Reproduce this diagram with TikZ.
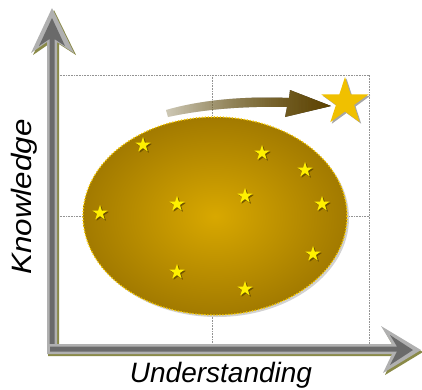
\documentclass[tikz,border=0pt]{standalone}
\usepackage{fontspec}
\setmainfont{Liberation Sans}
\usetikzlibrary{shapes.geometric,shadows,fadings}
\definecolor{goldIn}{HTML}{D8A800}
\definecolor{goldOut}{HTML}{A27A00}
\definecolor{dotY}{HTML}{F5C800}
\definecolor{starY}{HTML}{FFF000}
\definecolor{starShadow}{HTML}{5E4600}
\definecolor{bigY}{HTML}{F0C000}
\definecolor{arrL}{HTML}{D8BC60}
\definecolor{arrR}{HTML}{5E4300}
\definecolor{axLight}{HTML}{B0B0B0}
\definecolor{axDark}{HTML}{6A6A6A}
\definecolor{axShadow}{HTML}{8A8A48}
\tikzfading[name=fadeleft, left color=transparent!80, right color=transparent!0]
\tikzset{
  gridline/.style={draw=gray!85, line width=0.6pt, dash pattern=on 0.8pt off 0.8pt},
  smallstar/.style={star, star points=5, star point ratio=2.618, minimum size=16pt,
    inner sep=0pt, fill=starY,
    drop shadow={shadow xshift=1.3pt, shadow yshift=-1.3pt, fill=starShadow, opacity=0.8}},
  bigstar/.style={star, star points=5, star point ratio=2.618, minimum size=50pt,
    inner sep=0pt, fill=bigY,
    drop shadow={shadow xshift=1.5pt, shadow yshift=-1.5pt, fill=gray, opacity=0.7}},
  lab/.style={font=\fontsize{28pt}{30pt}\selectfont\itshape, inner sep=0pt, text=black}
}
\begin{document}
\begin{tikzpicture}[x=1pt,y=-1pt]
\useasboundingbox (0,0) rectangle (422,389);
% grid
\draw[gridline] (58,75) -- (369,75) -- (369,345);
\draw[gridline] (212,75) -- (212,345);
\draw[gridline] (58,216) -- (369,216);
% ellipse
\fill[gray!35] (217,218) ellipse [x radius=132pt, y radius=99pt];
\node[ellipse, minimum width=264pt, minimum height=198pt, inner sep=0pt,
  inner color=goldIn, outer color=goldOut] (cloud) at (215,216) {};
\draw[dotY, line width=1.8pt, line cap=round, dash pattern=on 0pt off 3pt]
  (215,216) ellipse [x radius=132pt, y radius=99pt];
% small stars
\node[smallstar] (s1) at (143,145) {};
\node[smallstar] (s2) at (262,153) {};
\node[smallstar] (s3) at (305,170) {};
\node[smallstar] (s4) at (245,196) {};
\node[smallstar] (s5) at (177,204) {};
\node[smallstar] (s6) at (100,213) {};
\node[smallstar] (s7) at (322,204) {};
\node[smallstar] (s8) at (313,254) {};
\node[smallstar] (s9) at (177,272) {};
\node[smallstar] (s10) at (245,289) {};
% big star
\node[bigstar] (big) at (345,102) {};
% curved arrow
\fill[left color=arrL, right color=arrR, path fading=fadeleft]
  (168,117) .. controls (205,109) and (245,106) .. (287,107)
  -- (285,117) -- (331,106) -- (290,90) -- (289,98)
  .. controls (245,96) and (200,100) .. (166,110) -- cycle;
% vertical axis
\fill[axShadow] (54,10) -- (76,55) -- (59,44) -- (59,354) -- (49,354) -- (49,44) -- (33,55) -- cycle;
\fill[axLight] (52,8) -- (74,53) -- (57,42) -- (57,352) -- (47,352) -- (47,42) -- (31,53) -- cycle;
\fill[axDark] (52,18) -- (65,46) -- (54.5,39) -- (54.5,350) -- (49.5,350) -- (49.5,39) -- (39,46) -- cycle;
% horizontal axis
\fill[axShadow] (48,346) -- (393,346) -- (383,328) -- (423,352) -- (385,375) -- (393,356) -- (48,356) -- cycle;
\fill[axLight] (47,344) -- (392,344) -- (381,326) -- (421,350) -- (383,373) -- (392,354) -- (47,354) -- cycle;
\fill[axDark] (50,346.5) -- (397,346.5) -- (390,335) -- (413,350) -- (390,365) -- (397,351.5) -- (50,351.5) -- cycle;
\coordinate (origin) at (52,349);
% labels
\node[lab, anchor=base] (xlab) at (221,382) {Understanding};
\node[lab, rotate=90, anchor=base] (ylab) at (31,197) {\scalebox{1.12}[1]{Knowledge}};
\end{tikzpicture}
\end{document}
